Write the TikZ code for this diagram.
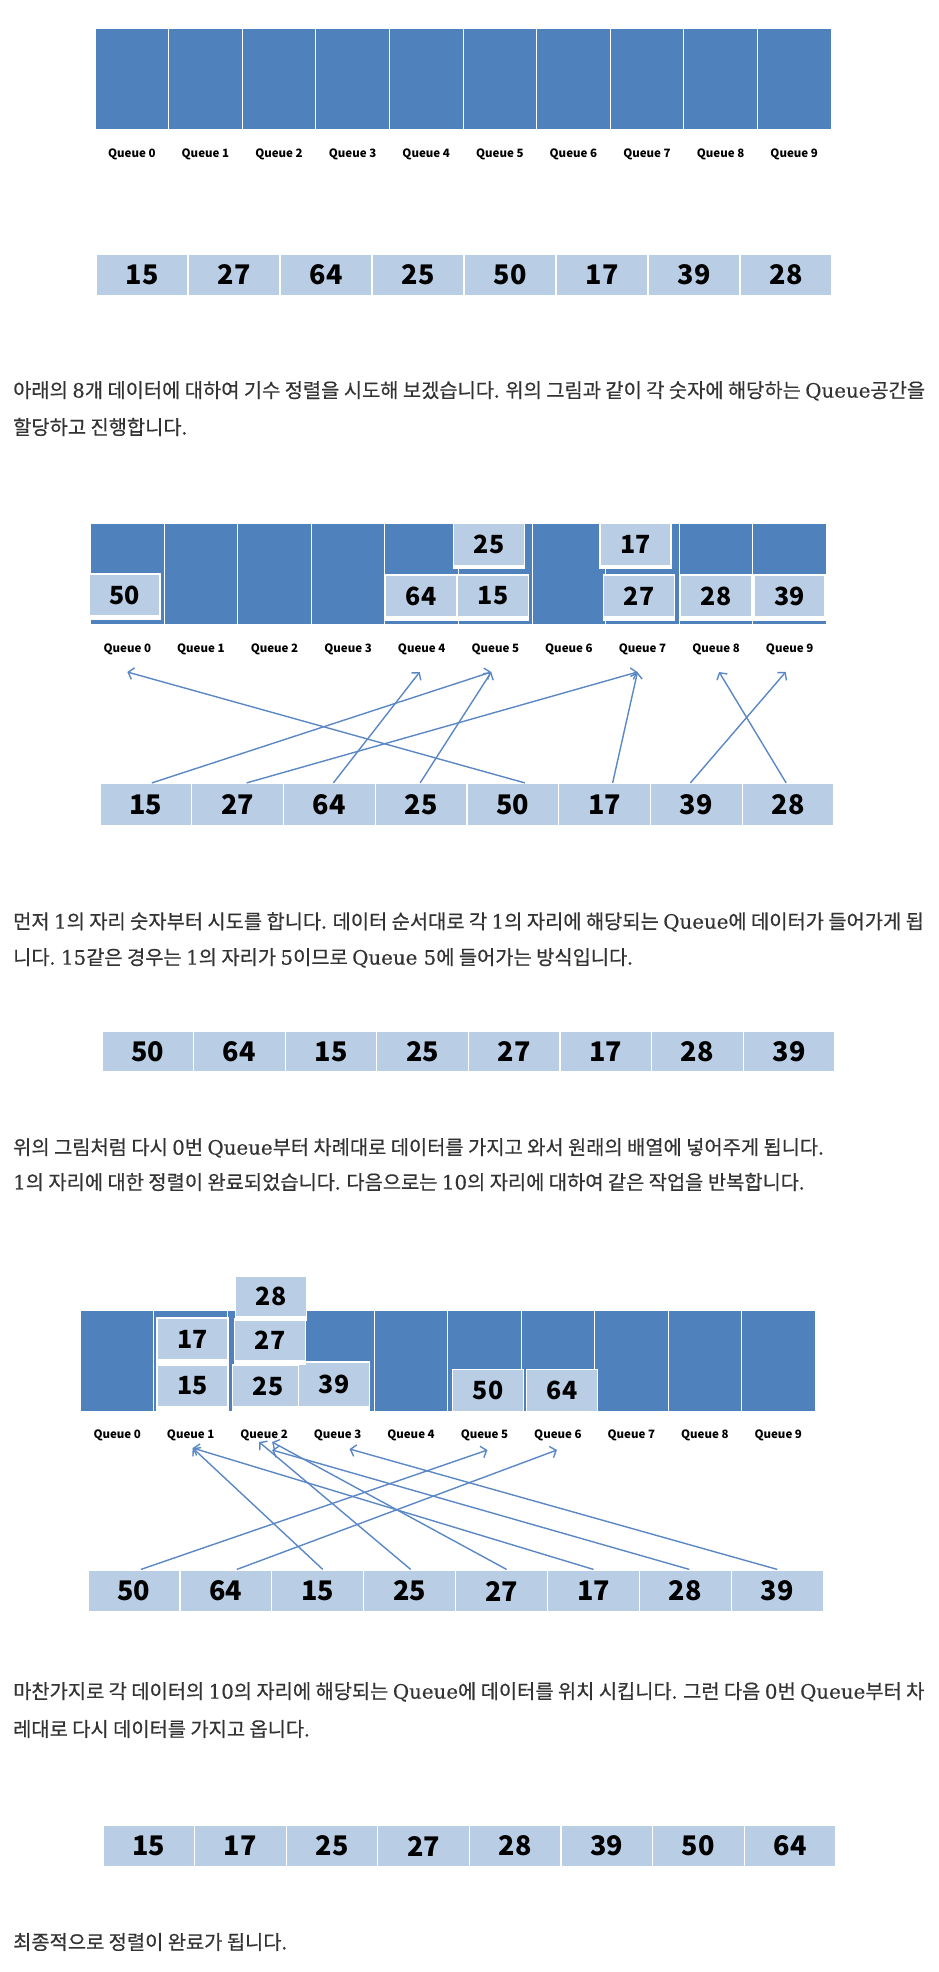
\documentclass[tikz,border=0pt]{standalone}
\usepackage{fontspec}
\setmainfont{Noto Sans CJK KR}
\newfontfamily\bodyfont{Noto Sans CJK KR}[FakeBold=0.5]
\newfontfamily\latfont{DejaVu Serif}[FakeBold=0.3]
\usepackage{xcolor}
\usepackage{tikz}
\usetikzlibrary{positioning,arrows.meta}
\definecolor{qblue}{HTML}{4F81BD}
\definecolor{qlight}{HTML}{B9CDE5}
\definecolor{qarrow}{HTML}{5B87C4}
\definecolor{txtgray}{HTML}{333333}
\newcommand{\lat}[1]{{\latfont #1}}

\begin{document}
\begin{tikzpicture}[x=1pt, y=-1pt,
  qcol/.style={fill=qblue, draw=white, line width=1pt, minimum width=73.6pt, minimum height=101pt, inner sep=0pt},
  qname/.style={font=\fontsize{11.5}{12}\selectfont\bfseries, text=black, inner sep=0pt},
  cell/.style={fill=qlight, draw=white, line width=1.2pt, minimum width=91.8pt, minimum height=42pt, inner sep=0pt, font=\fontsize{27}{28}\selectfont\bfseries},
  qbox/.style={fill=qlight, draw=white, line width=1.5pt, minimum width=71pt, minimum height=42pt, inner sep=0pt, font=\fontsize{25}{26}\selectfont\bfseries},
  para/.style={anchor=west, inner sep=0pt, text=txtgray, font=\bodyfont\fontsize{19.8}{22}\selectfont},
  move/.style={qarrow, line width=1.4pt, -{Straight Barb[length=5pt,width=12pt]}}
]
  \useasboundingbox (0,0) rectangle (938,1972);

  % Empty queues and the input data
  \foreach \k in {0,...,9} {
    \node[qcol] (a\k) at ({95+73.6*(\k+0.5)},79.5) {};
    \node[qname] (al\k) at ({95+73.6*(\k+0.5)},154) {Queue \k};
  }
  \foreach \v [count=\i from 0] in {15,27,64,25,50,17,39,28}
    \node[cell] (d\i) at ({96+92*(\i+0.5)},275) {\v};

  \node[para] (t1) at (13,391) {아래의 \lat{8}개 데이터에 대하여 기수 정렬을 시도해 보겠습니다. 위의 그림과 같이 각 숫자에 해당하는 \lat{Queue}공간을};
  \node[para] (t2) at (13,427) {할당하고 진행합니다.};

  % Pass 1: ones digit
  \foreach \k in {0,...,9} {
    \node[qcol] (b\k) at ({90.5+73.6*(\k+0.5)},573.5) {};
    \node[qname] (bl\k) at ({90.5+73.6*(\k+0.5)},649) {Queue \k};
  }
  \node[qbox] (b50) at (124.5,595) {50};
  \node[qbox] (b64) at (421,596) {64};
  \node[qbox] (b15) at (493,596) {15};
  \node[qbox] (b25) at (489,544.5) {25};
  \node[qbox] (b17) at (635.5,544.5) {17};
  \node[qbox] (b27) at (639,596) {27};
  \node[qbox] (b28) at (716,596) {28};
  \node[qbox] (b39) at (789.5,596) {39};
  \foreach \b in {b50,b64,b15,b25,b17,b27,b28,b39}
    \fill[white] (\b.south west) rectangle ([yshift=-3pt]\b.south east);

  \foreach \v [count=\i from 0] in {15,27,64,25,50,17,39,28}
    \node[cell] (e\i) at ({100+91.75*(\i+0.5)},804.5) {\v};
  \foreach \s/\ds/\t/\dt in {0/6/5/-4, 1/9/7/-5, 2/4/4/-2, 3/-1/5/-4, 4/12/0/0, 5/8/7/-5, 6/-6/9/-4, 7/-2/8/3}
    \draw[move] ([xshift=\ds pt]e\s.north) -- ([shift={(\dt,23)}]bl\t.center);

  \node[para] (t3) at (13,922) {먼저 \lat{1}의 자리 숫자부터 시도를 합니다. 데이터 순서대로 각 \lat{1}의 자리에 해당되는 \lat{Queue}에 데이터가 들어가게 됩};
  \node[para] (t4) at (13,958) {니다. \lat{15}같은 경우는 \lat{1}의 자리가 \lat{5}이므로 \lat{Queue 5}에 들어가는 방식입니다.};

  \foreach \v [count=\i from 0] in {50,64,15,25,27,17,28,39}
    \node[cell, minimum height=40pt] (f\i) at ({102+91.6*(\i+0.5)},1051.5) {\v};

  \node[para] (t5) at (13,1148) {위의 그림처럼 다시 \lat{0}번 \lat{Queue}부터 차례대로 데이터를 가지고 와서 원래의 배열에 넣어주게 됩니다.};
  \node[para] (t6) at (13,1182) {\lat{1}의 자리에 대한 정렬이 완료되었습니다. 다음으로는 \lat{10}의 자리에 대하여 같은 작업을 반복합니다.};

  % Pass 2: tens digit
  \foreach \k in {0,...,9} {
    \node[qcol] (c\k) at ({80.5+73.45*(\k+0.5)},1360.5) {};
    \node[qname] (cl\k) at ({80.5+73.45*(\k+0.5)},1435) {Queue \k};
  }
  \node[qbox, minimum height=41pt] (c28) at (271,1296.5) {28};
  \node[qbox] (c17) at (192.5,1339) {17};
  \node[qbox] (c27) at (270,1340) {27};
  \node[qbox] (c15) at (192.5,1386) {15};
  \node[qbox] (c25) at (268,1386) {25};
  \node[qbox, minimum height=45pt] (c39) at (334,1384.5) {39};
  \node[qbox] (c50) at (488,1390.5) {50};
  \node[qbox] (c64) at (562,1390.5) {64};
  \foreach \b in {c28,c17,c27,c15,c25,c39}
    \fill[white] (\b.south west) rectangle ([yshift=-3pt]\b.south east);

  \foreach \v [count=\i from 0] in {50,64,15,25,27,17,28,39}
    \node[cell] (g\i) at ({88+91.9*(\i+0.5)},1591) {\v};
  \foreach \s/\ds/\t/\dt/\dy in {0/7/5/3/15, 1/11/6/-1/15, 2/5/1/2/13, 3/1/2/-5/7, 4/5/2/8/7, 5/0/1/2/13, 6/4/2/8/15, 7/0/3/12/14}
    \draw[move] ([xshift=\ds pt]g\s.north) -- ([shift={(\dt,\dy)}]cl\t.center);

  \node[para] (t7) at (13,1692) {마찬가지로 각 데이터의 \lat{10}의 자리에 해당되는 \lat{Queue}에 데이터를 위치 시킵니다. 그런 다음 \lat{0}번 \lat{Queue}부터 차};
  \node[para] (t8) at (13,1729) {레대로 다시 데이터를 가지고 옵니다.};

  % Sorted result
  \foreach \v [count=\i from 0] in {15,17,25,27,28,39,50,64}
    \node[cell] (h\i) at ({103+91.6*(\i+0.5)},1846) {\v};

  \node[para] (t9) at (13,1942) {최종적으로 정렬이 완료가 됩니다.};
\end{tikzpicture}
\end{document}
